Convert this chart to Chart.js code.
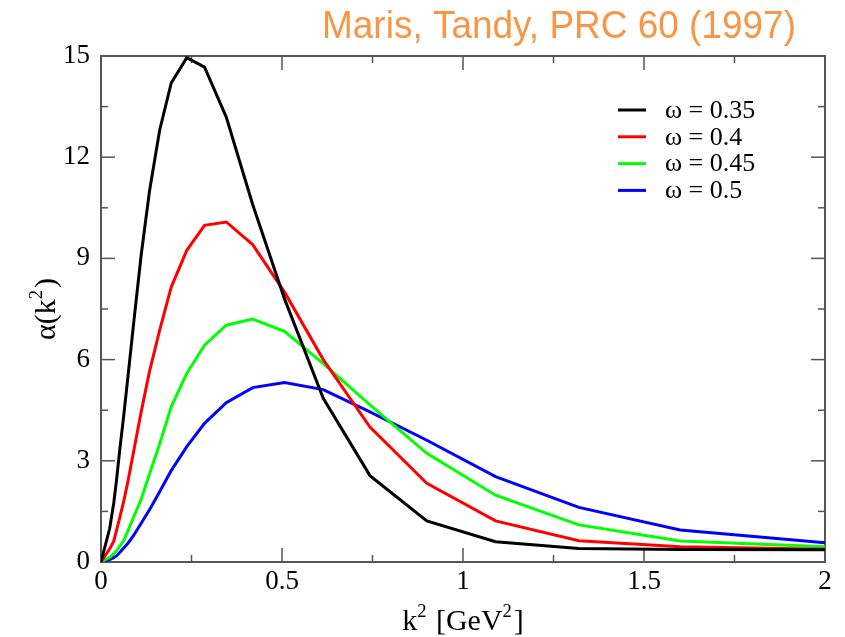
<!DOCTYPE html>
<html>
<head>
<meta charset="utf-8">
<script src="https://cdn.jsdelivr.net/npm/chart.js@4.4.1/dist/chart.umd.min.js"></script>
<style>
  html, body { margin: 0; padding: 0; background: #fff; }
  canvas { display: block; }
</style>
</head>
<body>
<canvas id="chart" width="845" height="637"></canvas>
<script>
// k^2 grid [GeV^2]
const K2 = [0, 0.0241, 0.0352, 0.0426, 0.0516, 0.0624, 0.0755, 0.0914, 0.111, 0.134, 0.162, 0.194,
  0.237, 0.286, 0.346, 0.419, 0.507, 0.614, 0.743, 0.9, 1.09, 1.32, 1.6, 2.0];

const ALPHA_035 = [0, 1.0, 1.75, 2.4, 3.3, 4.3, 5.6, 7.2, 9.1, 11.0, 12.8, 14.2,
  14.95, 14.67, 13.19, 10.6, 7.8, 4.85, 2.56, 1.22, 0.6, 0.4, 0.37, 0.36];
const ALPHA_040 = [0, 0.39, 0.62, 0.92, 1.31, 1.78, 2.45, 3.35, 4.45, 5.65, 6.87, 8.15,
  9.24, 9.98, 10.08, 9.41, 8.0, 6.0, 4.0, 2.33, 1.22, 0.63, 0.45, 0.38];
const ALPHA_045 = [0, 0.14, 0.24, 0.33, 0.46, 0.63, 0.95, 1.36, 1.86, 2.61, 3.5, 4.6,
  5.59, 6.43, 7.02, 7.2, 6.84, 5.88, 4.66, 3.22, 1.98, 1.1, 0.62, 0.45];
const ALPHA_050 = [0, 0.07, 0.13, 0.18, 0.28, 0.41, 0.57, 0.81, 1.15, 1.55, 2.08, 2.71,
  3.42, 4.11, 4.72, 5.17, 5.32, 5.11, 4.45, 3.61, 2.53, 1.62, 0.95, 0.57];

const SERIES_LABELS = ["ω = 0.35", "ω = 0.4", "ω = 0.45", "ω = 0.5"];
const SERIES_COLORS = ["#000000", "#ff0000", "#00ff00", "#0000ff"];
const SERIES_VALUES = [ALPHA_035, ALPHA_040, ALPHA_045, ALPHA_050];

const X_MAJOR = [0, 0.5, 1, 1.5, 2];
const X_MINOR = [0.25, 0.75, 1.25, 1.75];
const Y_MAJOR = [0, 3, 6, 9, 12, 15];
const Y_MINOR = [1.5, 4.5, 7.5, 10.5, 13.5];

const TITLE = "Maris, Tandy, PRC 60 (1997)";
const SERIF = "'Liberation Serif', 'Times New Roman', serif";
const FRAME_COLOR = "#555555";

// draws text pieces, some as superscripts, starting at x
function drawRich(ctx, parts, x, y, size) {
  parts.forEach((p) => {
    const s = p.sup ? size * 0.62 : size;
    ctx.font = `${s}px ${SERIF}`;
    ctx.fillText(p.text, x, p.sup ? y - size * 0.42 : y);
    x += ctx.measureText(p.text).width + (p.sup ? 2 : 0);
  });
}

function richWidth(ctx, parts, size) {
  return parts.reduce((w, p) => {
    ctx.font = `${p.sup ? size * 0.62 : size}px ${SERIF}`;
    return w + ctx.measureText(p.text).width + (p.sup ? 2 : 0);
  }, 0);
}

const decorations = {
  id: "decorations",
  beforeDatasetsDraw(chart) {
    const { ctx, chartArea: a, scales: { x, y } } = chart;
    ctx.save();
    ctx.strokeStyle = FRAME_COLOR;
    ctx.lineWidth = 1.5;
    const tick = (px, py, dx, dy) => {
      ctx.beginPath();
      ctx.moveTo(px, py);
      ctx.lineTo(px + dx, py + dy);
      ctx.stroke();
    };
    X_MAJOR.forEach((v) => {
      const px = x.getPixelForValue(v);
      tick(px, a.bottom, 0, -14);
      tick(px, a.top, 0, 14);
    });
    X_MINOR.forEach((v) => {
      const px = x.getPixelForValue(v);
      tick(px, a.bottom, 0, -7);
      tick(px, a.top, 0, 7);
    });
    Y_MAJOR.forEach((v) => {
      const py = y.getPixelForValue(v);
      tick(a.left, py, 14, 0);
      tick(a.right, py, -14, 0);
    });
    Y_MINOR.forEach((v) => {
      const py = y.getPixelForValue(v);
      tick(a.left, py, 7, 0);
      tick(a.right, py, -7, 0);
    });
    ctx.lineWidth = 2;
    ctx.strokeRect(a.left, a.top, a.right - a.left, a.bottom - a.top);
    ctx.restore();
  },
  afterDraw(chart) {
    const { ctx, chartArea: a } = chart;
    ctx.save();
    ctx.fillStyle = "#000";
    ctx.textBaseline = "alphabetic";
    ctx.textAlign = "left";

    // x axis title
    const xParts = [{ text: "k" }, { text: "2", sup: true }, { text: " [GeV" }, { text: "2", sup: true }, { text: "]" }];
    const xw = richWidth(ctx, xParts, 30);
    drawRich(ctx, xParts, (a.left + a.right) / 2 - xw / 2, 630, 30);

    // y axis title
    const yParts = [{ text: "α(k" }, { text: "2", sup: true }, { text: ")" }];
    const yw = richWidth(ctx, yParts, 30);
    ctx.save();
    ctx.translate(55, (a.top + a.bottom) / 2);
    ctx.rotate(-Math.PI / 2);
    drawRich(ctx, yParts, -yw / 2, 0, 30);
    ctx.restore();

    // legend
    ctx.font = `26px ${SERIF}`;
    ctx.textBaseline = "middle";
    chart.data.datasets.forEach((ds, i) => {
      const ly = 110 + i * 26.8;
      ctx.strokeStyle = ds.borderColor;
      ctx.lineWidth = 3;
      ctx.beginPath();
      ctx.moveTo(618, ly);
      ctx.lineTo(646, ly);
      ctx.stroke();
      ctx.fillText(ds.label, 665, ly + 1);
    });

    // title, squeezed to the reference width
    ctx.fillStyle = "#f79646";
    ctx.font = "38px 'Liberation Sans Narrow', 'Liberation Sans', Arial, sans-serif";
    ctx.textBaseline = "alphabetic";
    const tw = ctx.measureText(TITLE).width;
    const sx = 474 / tw;
    ctx.translate(322, 38);
    ctx.scale(sx, 1);
    ctx.fillText(TITLE, 0, 0);
    ctx.restore();
  },
};

const datasets = SERIES_VALUES.map((values, i) => ({
  label: SERIES_LABELS[i],
  data: K2.map((k, j) => ({ x: k, y: values[j] })),
  borderColor: SERIES_COLORS[i],
  backgroundColor: SERIES_COLORS[i],
  borderWidth: 3,
  pointRadius: 0,
  tension: 0,
}));

new Chart(document.getElementById("chart"), {
  type: "line",
  data: { datasets },
  plugins: [decorations],
  options: {
    responsive: false,
    animation: false,
    layout: { padding: { top: 56, right: 20, left: 0, bottom: 0 } },
    plugins: {
      legend: { display: false },
      tooltip: { enabled: false },
    },
    scales: {
      x: {
        type: "linear",
        min: 0,
        max: 2,
        grid: { display: false, drawTicks: false },
        border: { display: false },
        ticks: {
          stepSize: 0.5,
          maxRotation: 0,
          padding: 4,
          color: "#000",
          font: { family: SERIF, size: 27 },
          callback: (v) => String(v),
        },
        afterFit: (scale) => { scale.height = 75; },
      },
      y: {
        min: 0,
        max: 15,
        grid: { display: false, drawTicks: false },
        border: { display: false },
        ticks: {
          stepSize: 3,
          padding: 11,
          color: "#000",
          font: { family: SERIF, size: 27 },
        },
        afterFit: (scale) => { scale.width = 101; },
      },
    },
  },
});
</script>
</body>
</html>
